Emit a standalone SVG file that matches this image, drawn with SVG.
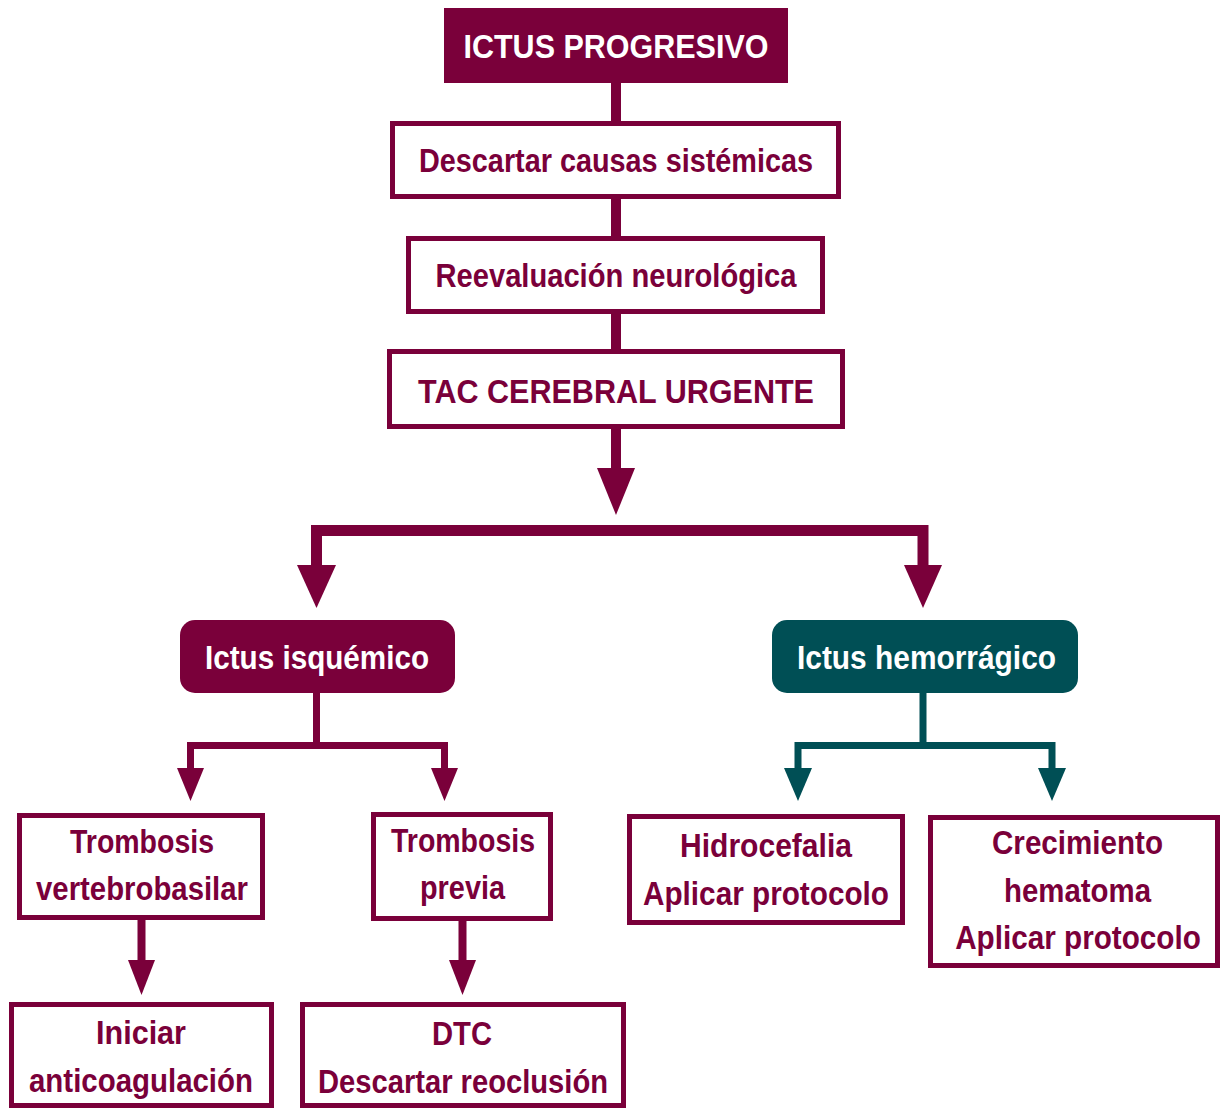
<svg xmlns="http://www.w3.org/2000/svg" width="1220" height="1108" viewBox="0 0 1220 1108">
  <style>
    .box { fill: #ffffff; stroke: #7a003a; stroke-width: 5; }
    .t { font-family: "Liberation Sans", "DejaVu Sans", Arial, sans-serif; font-weight: bold; font-size: 33px; text-anchor: middle; fill: #7a003a; }
    .w { fill: #ffffff; }
    .m { stroke: #7a003a; fill: none; }
    .g { stroke: #004f55; fill: none; }
    .mh { fill: #7a003a; }
    .gh { fill: #004f55; }
  </style>

  <!-- connectors -->
  <g id="connectors">
    <path class="m" stroke-width="10" d="M616 83 V123 M616 199 V238 M616 314 V352 M616 429 V472"/>
    <polygon class="mh" points="597,468 635,468 616,515"/>
    <path class="m" stroke-width="11" d="M316.5 570 V530.5 H923 V570"/>
    <polygon class="mh" points="297,565 336,565 316.5,608"/>
    <polygon class="mh" points="904,565 942,565 923,608"/>

    <path class="m" stroke-width="7" d="M316.5 692 V745.5 M190.5 772 V745.5 H444.5 V772"/>
    <polygon class="mh" points="177,768 204,768 190.5,801"/>
    <polygon class="mh" points="431,768 458,768 444.5,801"/>

    <path class="g" stroke-width="7" d="M923 692 V745.5 M798 772 V745.5 H1052 V772"/>
    <polygon class="gh" points="784,768 812,768 798,801"/>
    <polygon class="gh" points="1038,768 1066,768 1052,801"/>

    <path class="m" stroke-width="8" d="M141.5 920 V963 M462.5 921 V963"/>
    <polygon class="mh" points="128,960 155,960 141.5,995"/>
    <polygon class="mh" points="449,960 476,960 462.5,995"/>
  </g>

  <g id="ictus-progresivo">
    <rect x="444" y="8" width="344" height="75" fill="#7a003a"/>
    <text class="t w" x="616" y="58" font-size="29" textLength="305" lengthAdjust="spacingAndGlyphs">ICTUS PROGRESIVO</text>
  </g>

  <g id="descartar-causas">
    <rect class="box" x="392.5" y="123.5" width="446" height="73"/>
    <text class="t" x="616" y="172" textLength="394" lengthAdjust="spacingAndGlyphs">Descartar causas sistémicas</text>
  </g>

  <g id="reevaluacion">
    <rect class="box" x="408.5" y="238.5" width="414" height="73"/>
    <text class="t" x="616" y="287" textLength="361" lengthAdjust="spacingAndGlyphs">Reevaluación neurológica</text>
  </g>

  <g id="tac">
    <rect class="box" x="389.5" y="351.5" width="453" height="75"/>
    <text class="t" x="616" y="403" font-size="34" textLength="396" lengthAdjust="spacingAndGlyphs">TAC CEREBRAL URGENTE</text>
  </g>

  <g id="isquemico">
    <rect x="180" y="620" width="275" height="73" rx="15" fill="#7a003a"/>
    <text class="t w" x="317" y="669" textLength="224" lengthAdjust="spacingAndGlyphs">Ictus isquémico</text>
  </g>

  <g id="hemorragico">
    <rect x="772" y="620" width="306" height="73" rx="15" fill="#004f55"/>
    <text class="t w" x="926.5" y="669" textLength="259" lengthAdjust="spacingAndGlyphs">Ictus hemorrágico</text>
  </g>

  <g id="trombosis-vb">
    <rect class="box" x="19.5" y="815.5" width="243" height="102"/>
    <text class="t" x="142" y="853" textLength="144" lengthAdjust="spacingAndGlyphs">Trombosis</text>
    <text class="t" x="142" y="900" textLength="212" lengthAdjust="spacingAndGlyphs">vertebrobasilar</text>
  </g>

  <g id="trombosis-previa">
    <rect class="box" x="373.5" y="814.5" width="177" height="104"/>
    <text class="t" x="463" y="852" textLength="144" lengthAdjust="spacingAndGlyphs">Trombosis</text>
    <text class="t" x="462.5" y="899" textLength="85" lengthAdjust="spacingAndGlyphs">previa</text>
  </g>

  <g id="anticoagulacion">
    <rect class="box" x="11.5" y="1004.5" width="260" height="101"/>
    <text class="t" x="141" y="1044" textLength="90" lengthAdjust="spacingAndGlyphs">Iniciar</text>
    <text class="t" x="141" y="1092" textLength="224" lengthAdjust="spacingAndGlyphs">anticoagulación</text>
  </g>

  <g id="dtc">
    <rect class="box" x="302.5" y="1004.5" width="321" height="101"/>
    <text class="t" x="462" y="1045" textLength="60" lengthAdjust="spacingAndGlyphs">DTC</text>
    <text class="t" x="463" y="1093" textLength="290" lengthAdjust="spacingAndGlyphs">Descartar reoclusión</text>
  </g>

  <g id="hidrocefalia">
    <rect class="box" x="629.5" y="816.5" width="273" height="106"/>
    <text class="t" x="766" y="857" textLength="172" lengthAdjust="spacingAndGlyphs">Hidrocefalia</text>
    <text class="t" x="766" y="905" textLength="246" lengthAdjust="spacingAndGlyphs">Aplicar protocolo</text>
  </g>

  <g id="crecimiento">
    <rect class="box" x="930.5" y="817.5" width="287" height="148"/>
    <text class="t" x="1077.5" y="854" textLength="171" lengthAdjust="spacingAndGlyphs">Crecimiento</text>
    <text class="t" x="1077.5" y="902" textLength="147" lengthAdjust="spacingAndGlyphs">hematoma</text>
    <text class="t" transform="translate(1078 949) scale(0.9 1)" x="0" y="0">Aplicar protocolo</text>
  </g>
</svg>
